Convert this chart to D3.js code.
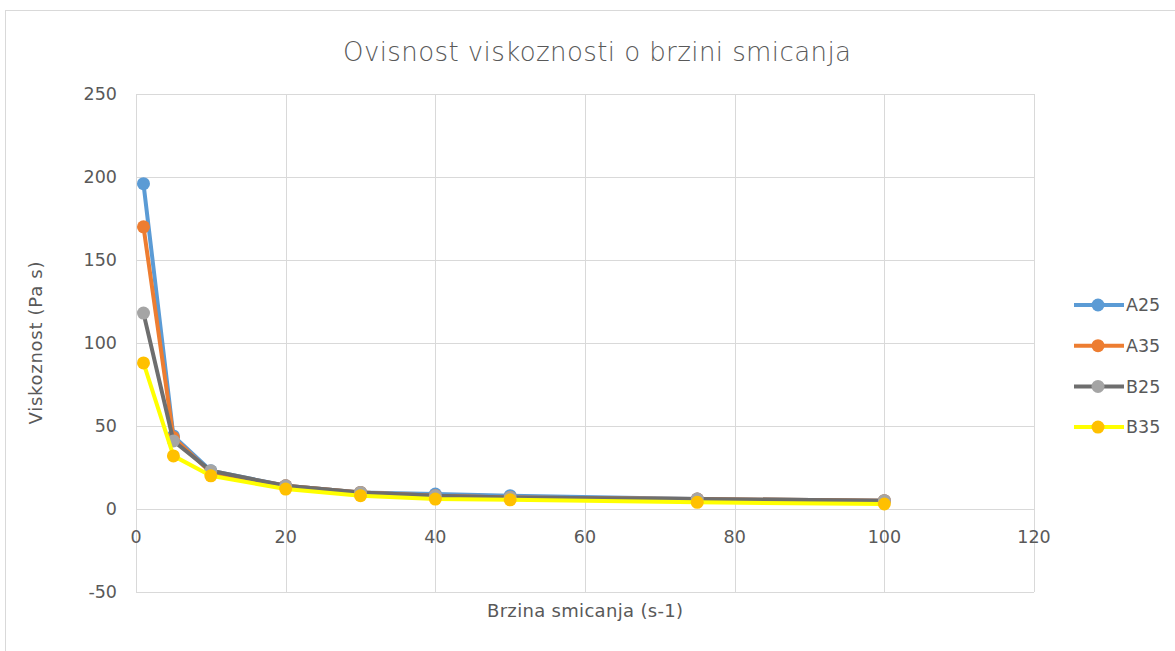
<!DOCTYPE html>
<html>
<head>
<meta charset="utf-8">
<script src="https://cdn.jsdelivr.net/npm/d3@7"></script>
<style>
  body { margin: 0; background: #fff; }
  svg { display: block; font-family: "DejaVu Sans", "Open Sans", sans-serif; }
</style>
</head>
<body>
<svg id="chart" width="1175" height="651"></svg>
<script>
// data
const shearRates = [1, 5, 10, 20, 30, 40, 50, 75, 100];
const a25 = [196, 44, 23, 14, 10, 9, 8, 6, 5];
const a35 = [170, 43, 22, 14, 10, 8, 7, 6, 5];
const b25 = [118, 41, 23, 14, 10, 8, 7, 6, 5];
const b35 = [88, 32, 20, 12, 8, 6, 5.5, 4, 3];
const seriesNames = ["A25", "A35", "B25", "B35"];
const xTicks = [0, 20, 40, 60, 80, 100, 120];
const yTicks = [-50, 0, 50, 100, 150, 200, 250];

const series = [
  {name: seriesNames[0], values: a25, line: "#5b9bd5", dot: "#5b9bd5"},
  {name: seriesNames[1], values: a35, line: "#ed7d31", dot: "#ed7d31"},
  {name: seriesNames[2], values: b25, line: "#6e6e6e", dot: "#a5a5a5"},
  {name: seriesNames[3], values: b35, line: "#ffff00", dot: "#ffc000"}
];

let svg = d3.select("#chart");
const textCol = "#595959", gridCol = "#d9d9d9";

// outer chart frame (runs off the right/bottom of the picture)
svg.append("rect")
  .attr("x", 5.5).attr("y", 10.5)
  .attr("width", 1200).attr("height", 700)
  .attr("fill", "none").attr("stroke", gridCol);

let x = d3.scaleLinear().domain([0, 120]).range([136, 1034]);
let y = d3.scaleLinear().domain([-50, 250]).range([592, 94]);

let g = svg.append("g");

// gridlines
g.selectAll(".hgrid").data(yTicks).enter().append("line")
  .attr("x1", x(0)).attr("x2", x(120))
  .attr("y1", d => Math.round(y(d)) + 0.5).attr("y2", d => Math.round(y(d)) + 0.5)
  .attr("stroke", gridCol);
g.selectAll(".vgrid").data(xTicks).enter().append("line")
  .attr("y1", y(250)).attr("y2", y(-50))
  .attr("x1", d => Math.round(x(d)) + 0.5).attr("x2", d => Math.round(x(d)) + 0.5)
  .attr("stroke", gridCol);

// y tick labels
g.selectAll(".ylab").data(yTicks).enter().append("text")
  .attr("x", 117).attr("y", d => y(d))
  .attr("dy", "0.35em").attr("text-anchor", "end")
  .attr("fill", textCol).style("font-size", "17.5px")
  .text(d => d);

// x tick labels sit under the zero line
g.selectAll(".xlab").data(xTicks).enter().append("text")
  .attr("x", d => x(d)).attr("y", y(0) + 28)
  .attr("dy", "0.35em").attr("text-anchor", "middle")
  .attr("fill", textCol).style("font-size", "17.5px")
  .text(d => d);

// title + axis titles
svg.append("text").attr("x", 597).attr("y", 52).attr("dy", "0.35em")
  .attr("text-anchor", "middle").attr("fill", textCol)
  .style("font-size", "26px").style("font-weight", 300)
  .attr("textLength", 508).attr("lengthAdjust", "spacing")
  .text("Ovisnost viskoznosti o brzini smicanja");
svg.append("text").attr("x", 585).attr("y", 611).attr("dy", "0.35em")
  .attr("text-anchor", "middle").attr("fill", textCol)
  .style("font-size", "18px")
  .attr("textLength", 196).attr("lengthAdjust", "spacing")
  .text("Brzina smicanja (s-1)");
svg.append("text")
  .attr("transform", "translate(36," + y(100) + ") rotate(-90)")
  .attr("dy", "0.35em").attr("text-anchor", "middle").attr("fill", textCol)
  .style("font-size", "18px")
  .attr("textLength", 163).attr("lengthAdjust", "spacing")
  .text("Viskoznost (Pa s)");

// lines and markers
let line = d3.line()
  .x((d, i) => x(shearRates[i]))
  .y(d => y(d));

series.forEach(s => {
  let sg = g.append("g");
  sg.append("path").datum(s.values)
    .attr("d", line).attr("fill", "none")
    .attr("stroke", s.line).attr("stroke-width", 4)
    .attr("stroke-linejoin", "round");
  sg.selectAll("circle").data(s.values).enter().append("circle")
    .attr("cx", (d, i) => x(shearRates[i]))
    .attr("cy", d => y(d))
    .attr("r", 6.5)
    .attr("fill", s.dot);
});

// legend
let legend = svg.append("g");
series.forEach((s, i) => {
  let ly = 305 + i * 40.7;
  legend.append("line").attr("x1", 1074).attr("x2", 1124)
    .attr("y1", ly).attr("y2", ly)
    .attr("stroke", s.line).attr("stroke-width", 4);
  legend.append("circle").attr("cx", 1098).attr("cy", ly).attr("r", 6.5)
    .attr("fill", s.dot);
  legend.append("text").attr("x", 1126).attr("y", ly).attr("dy", "0.35em")
    .attr("fill", textCol).style("font-size", "17.5px")
    .text(s.name);
});
</script>
</body>
</html>
